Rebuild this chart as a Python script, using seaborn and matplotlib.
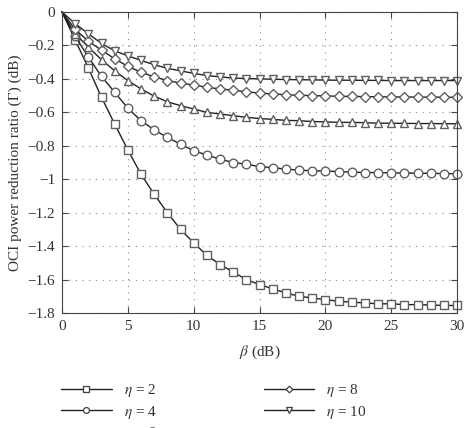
import numpy as np
import pandas as pd
import matplotlib
matplotlib.use("Agg")
import matplotlib.pyplot as plt
from matplotlib.lines import Line2D
import seaborn as sns

sns.set_style("ticks")
plt.rcParams['font.family'] = ['Liberation Serif', 'DejaVu Serif']
plt.rcParams['mathtext.fontset'] = 'stix'

# beta (dB) y OCI power reduction ratio para cada eta
beta = list(range(0, 31))
eta2 = [0, -0.167, -0.335, -0.51, -0.67, -0.825, -0.97, -1.09, -1.20, -1.30, -1.38,
        -1.455, -1.51, -1.555, -1.60, -1.63, -1.655, -1.68, -1.70, -1.71, -1.72,
        -1.73, -1.735, -1.74, -1.745, -1.745, -1.75, -1.75, -1.752, -1.755, -1.755]
eta4 = [0, -0.145, -0.27, -0.385, -0.48, -0.575, -0.65, -0.705, -0.75, -0.79, -0.83,
        -0.855, -0.88, -0.90, -0.91, -0.925, -0.93, -0.94, -0.945, -0.95, -0.95,
        -0.955, -0.957, -0.96, -0.96, -0.962, -0.963, -0.964, -0.965, -0.966, -0.967]
eta6 = [0, -0.13, -0.21, -0.285, -0.352, -0.41, -0.46, -0.503, -0.537, -0.56, -0.58,
        -0.60, -0.61, -0.62, -0.63, -0.637, -0.642, -0.648, -0.65, -0.655, -0.657,
        -0.66, -0.66, -0.662, -0.665, -0.665, -0.666, -0.667, -0.667, -0.668, -0.668]
eta8 = [0, -0.104, -0.175, -0.228, -0.28, -0.325, -0.36, -0.388, -0.41, -0.425, -0.437,
        -0.45, -0.46, -0.468, -0.477, -0.485, -0.49, -0.495, -0.498, -0.5, -0.502,
        -0.504, -0.505, -0.506, -0.507, -0.508, -0.508, -0.509, -0.509, -0.51, -0.51]
eta10 = [0, -0.07, -0.13, -0.188, -0.232, -0.262, -0.29, -0.315, -0.337, -0.352, -0.367,
         -0.38, -0.388, -0.395, -0.398, -0.40, -0.402, -0.404, -0.405, -0.406, -0.407,
         -0.408, -0.408, -0.409, -0.409, -0.41, -0.41, -0.41, -0.41, -0.41, -0.41]

series = [(r'$\eta$ = 2', eta2, 's'),
          (r'$\eta$ = 4', eta4, 'o'),
          (r'$\eta$ = 6', eta6, '^'),
          (r'$\eta$ = 8', eta8, 'D'),
          (r'$\eta$ = 10', eta10, 'v')]
msizes = {'s': 6, 'o': 6.2, '^': 6.3, 'D': 5, 'v': 6.3}

fig = plt.figure(figsize=(4.65, 4.28), dpi=100)
ax = fig.add_axes([62/465, 1 - 313/428, 395/465, 301/428])

handles = []
labels = []
for lab, vals, m in series:
    sns.lineplot(x=beta, y=vals, ax=ax, marker=m, color='#222222', linewidth=1,
                 markersize=msizes[m], markerfacecolor='white', markeredgecolor='#606060',
                 markeredgewidth=1, markevery=list(range(1, 31)),
                 legend=False, clip_on=False)
    handles.append(Line2D([], [], color='#222222', linewidth=1, marker=m,
                          markersize=msizes[m] * 0.68,
                          markerfacecolor='white', markeredgecolor='#404040',
                          markeredgewidth=0.9))
    labels.append(lab)

ax.set_xlim(0, 30)
ax.set_ylim(-1.8, 0)
ax.set_xticks([0, 5, 10, 15, 20, 25, 30])
ax.set_yticks(np.arange(-1.8, 0.01, 0.2))
ax.set_yticklabels(['\u22121.8', '\u22121.6', '\u22121.4', '\u22121.2', '\u22121',
                    '\u22120.8', '\u22120.6', '\u22120.4', '\u22120.2', '0'])
ax.grid(True, linestyle=(0, (1, 5)), color='#888888', linewidth=0.8)
ax.tick_params(direction='in', top=True, right=True, length=4, color='#444444',
               labelsize=11, labelcolor='#333333', pad=5)
for s in ax.spines.values():
    s.set_color('#444444')
    s.set_linewidth(0.8)

ax.set_xlabel(r'$\beta$ (dB)', fontsize=11, color='#333333', labelpad=8)
ax.set_ylabel('OCI power reduction ratio (\u0393) (dB)', fontsize=11, color='#333333',
              labelpad=4)

leg = fig.legend(handles, labels, ncol=2, loc='upper left',
                 bbox_to_anchor=(55/465, 1 - 376/428), frameon=False,
                 fontsize=11, handlelength=3.3, handletextpad=0.8,
                 columnspacing=7.0, labelspacing=0.3, borderaxespad=0)
for t in leg.get_texts():
    t.set_color('#333333')

fig.savefig('out.png', dpi=100)
